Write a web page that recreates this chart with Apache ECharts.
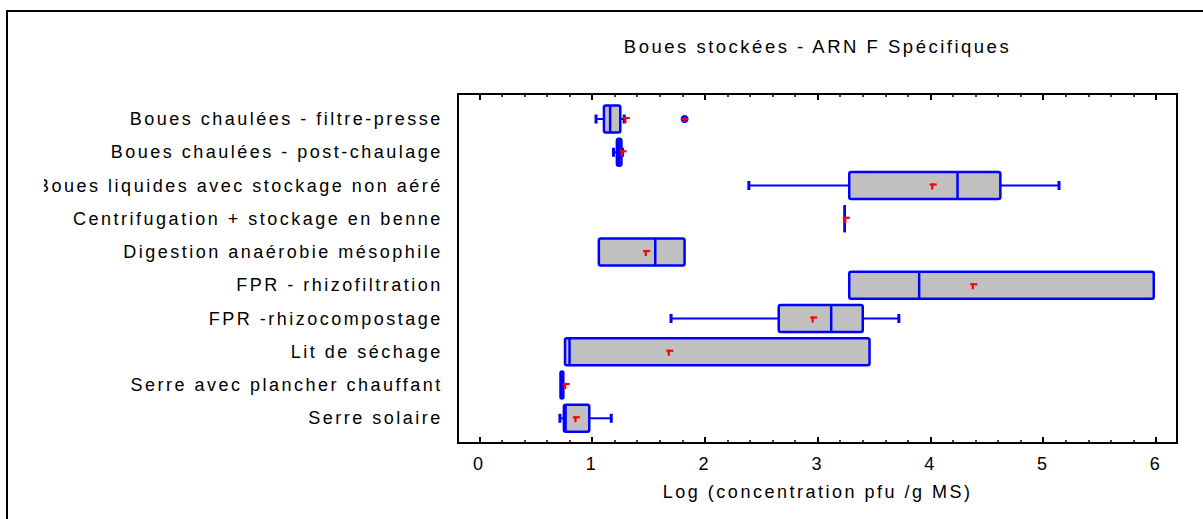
<!DOCTYPE html>
<html>
<head>
<meta charset="utf-8">
<script src="https://cdn.jsdelivr.net/npm/echarts@6.0.0/dist/echarts.min.js"></script>
<style>
  html, body { margin: 0; padding: 0; background: #fff; }
  #chart { width: 1203px; height: 519px; }
  #chart text { letter-spacing: 2.5px; }
</style>
</head>
<body>
<div id="chart"></div>
<script>
// ---- data ----
const categories = [
  'Boues chaulées - filtre-presse',
  'Boues chaulées - post-chaulage',
  'Boues liquides avec stockage non aéré',
  'Centrifugation + stockage en benne',
  'Digestion anaérobie mésophile',
  'FPR - rhizofiltration',
  'FPR -rhizocompostage',
  'Lit de séchage',
  'Serre avec plancher chauffant',
  'Serre solaire'
];
const whiskerLow  = [1.035, 1.19, 2.39, 3.24, 1.06, 3.28, 1.70, 0.76, 0.72, 0.715];
const q1          = [1.105, 1.22, 3.28, 3.24, 1.06, 3.28, 2.655, 0.76, 0.72, 0.75];
const median      = [1.16, 1.24, 4.24, 3.24, 1.56, 3.90, 3.12, 0.80, 0.73, 0.765];
const q3          = [1.25, 1.26, 4.62, 3.24, 1.82, 5.98, 3.40, 3.46, 0.745, 0.975];
const whiskerHigh = [1.285, 1.27, 5.14, 3.24, 1.82, 5.98, 3.72, 3.46, 0.745, 1.17];
const means       = [1.30, 1.27, 4.02, 3.25, 1.48, 4.38, 2.96, 1.685, 0.765, 0.857];
const outlierValues = [1.82];
const outlierCategories = ['Boues chaulées - filtre-presse'];
const xTicks = [0, 1, 2, 3, 4, 5, 6];

const titleText = 'Boues stockées - ARN F Spécifiques';
const xName = 'Log (concentration pfu /g MS)';

// ---- build ----
const BLUE = '#0000ff', RED = '#ff0000', GRAY = '#c0c0c0';
const BOX_H = 27, CAP_H = 9;
const FONT = 'Arial, "Liberation Sans", sans-serif';

const boxData = categories.map((c, i) => [i, whiskerLow[i], q1[i], median[i], q3[i], whiskerHigh[i], means[i]]);
const outlierData = outlierValues.map((v, k) => [v, categories.indexOf(outlierCategories[k])]);

function meanMarker(mx, y) {
  return [
    { type: 'line', shape: { x1: mx - 3, y1: y - 1, x2: mx + 4, y2: y - 1 }, style: { stroke: RED, lineWidth: 2.2 } },
    { type: 'line', shape: { x1: mx - 0.5, y1: y - 2, x2: mx - 0.5, y2: y + 4 }, style: { stroke: RED, lineWidth: 2.2 } }
  ];
}

function renderBox(params, api) {
  const ci = api.value(0);
  const wl = api.value(1), a = api.value(2), m = api.value(3), b = api.value(4), wh = api.value(5), mn = api.value(6);
  const X = v => api.coord([v, ci])[0];
  const y = api.coord([0, ci])[1];
  const ch = [];
  const ws = { stroke: BLUE, lineWidth: 2 };
  if (wl < a) {
    ch.push({ type: 'line', shape: { x1: X(wl), y1: y, x2: X(a), y2: y }, style: ws });
    ch.push({ type: 'line', shape: { x1: X(wl), y1: y - CAP_H / 2, x2: X(wl), y2: y + CAP_H / 2 }, style: { stroke: BLUE, lineWidth: 3 } });
  }
  if (wh > b) {
    ch.push({ type: 'line', shape: { x1: X(b), y1: y, x2: X(wh), y2: y }, style: ws });
    ch.push({ type: 'line', shape: { x1: X(wh), y1: y - CAP_H / 2, x2: X(wh), y2: y + CAP_H / 2 }, style: { stroke: BLUE, lineWidth: 3 } });
  }
  ch.push({ type: 'rect', shape: { x: X(a), y: y - BOX_H / 2, width: X(b) - X(a), height: BOX_H, r: 2 },
            style: { fill: GRAY, stroke: BLUE, lineWidth: 2.5 } });
  ch.push({ type: 'line', shape: { x1: X(m), y1: y - BOX_H / 2, x2: X(m), y2: y + BOX_H / 2 }, style: { stroke: BLUE, lineWidth: 2.5 } });
  meanMarker(X(mn), y).forEach(e => ch.push(e));
  return { type: 'group', children: ch };
}

function renderOutlier(params, api) {
  const p = api.coord([api.value(0), api.value(1)]);
  return { type: 'group', children: [
    { type: 'circle', shape: { cx: p[0], cy: p[1], r: 4 }, style: { fill: BLUE } },
    { type: 'line', shape: { x1: p[0] - 3.5, y1: p[1], x2: p[0] + 3.5, y2: p[1] }, style: { stroke: RED, lineWidth: 2 } },
    { type: 'line', shape: { x1: p[0], y1: p[1] - 2, x2: p[0], y2: p[1] + 3 }, style: { stroke: RED, lineWidth: 2 } }
  ] };
}

const chart = echarts.init(document.getElementById('chart'), null, { renderer: 'svg' });
chart.setOption({
  animation: false,
  backgroundColor: '#fff',
  textStyle: { fontFamily: FONT },
  title: {
    text: titleText, left: 817.5, top: 37, padding: 0, textAlign: 'center',
    textStyle: { fontSize: 18.5, fontWeight: 'normal', color: '#000', fontFamily: FONT }
  },
  graphic: [
    { type: 'polyline', z: 100, shape: { points: [[7, 519], [7, 11], [1203, 11]] }, style: { stroke: '#000', lineWidth: 2, fill: null } },
    { type: 'rect', z: 99, shape: { x: 8, y: 172, width: 36, height: 26 }, style: { fill: '#fff' } }
  ],
  grid: [
    { left: 458, right: 26, top: 94, bottom: 76, show: true, borderColor: '#000', borderWidth: 2, backgroundColor: 'transparent' },
    { left: 479.3, right: 47, top: 94, bottom: 76 },
    { left: 479.3, right: 47, top: 102.4, bottom: 84.1 }
  ],
  xAxis: [
    { gridIndex: 0, type: 'value', show: false, min: 0, max: 1 },
    { gridIndex: 1, type: 'value', min: xTicks[0], max: xTicks[xTicks.length - 1], interval: 1, position: 'bottom',
      axisLine: { show: false }, splitLine: { show: false },
      axisTick: { show: true, inside: true, length: 6, lineStyle: { color: '#000', width: 2 } },
      minorTick: { show: true, splitNumber: 5, length: 3, lineStyle: { color: '#000', width: 1.5 } },
      axisLabel: { show: true, margin: 12, fontSize: 18, color: '#000', fontFamily: FONT },
      name: xName, nameLocation: 'middle', nameGap: 40,
      nameTextStyle: { fontSize: 18, color: '#000', fontFamily: FONT } },
    { gridIndex: 1, type: 'value', min: xTicks[0], max: xTicks[xTicks.length - 1], interval: 1, position: 'top',
      axisLine: { show: false }, splitLine: { show: false },
      axisTick: { show: true, inside: true, length: 6, lineStyle: { color: '#000', width: 2 } },
      minorTick: { show: true, splitNumber: 5, length: 3, lineStyle: { color: '#000', width: 1.5 } },
      axisLabel: { show: false } },
    { gridIndex: 2, type: 'value', min: xTicks[0], max: xTicks[xTicks.length - 1], show: false }
  ],
  yAxis: [
    { gridIndex: 0, type: 'value', show: false },
    { gridIndex: 1, type: 'value', show: false },
    { gridIndex: 2, type: 'category', data: categories, inverse: true,
      axisLine: { show: false }, axisTick: { show: false }, splitLine: { show: false },
      axisLabel: { interval: 0, margin: 36.5, fontSize: 18, color: '#000', fontFamily: FONT } }
  ],
  series: [
    { type: 'custom', xAxisIndex: 3, yAxisIndex: 2, renderItem: renderBox, data: boxData, clip: false,
      encode: { x: [1, 2, 3, 4, 5, 6], y: 0 } },
    { type: 'custom', xAxisIndex: 3, yAxisIndex: 2, renderItem: renderOutlier, data: outlierData, clip: false,
      encode: { x: 0, y: 1 }, z: 5 }
  ]
});
</script>
</body>
</html>
